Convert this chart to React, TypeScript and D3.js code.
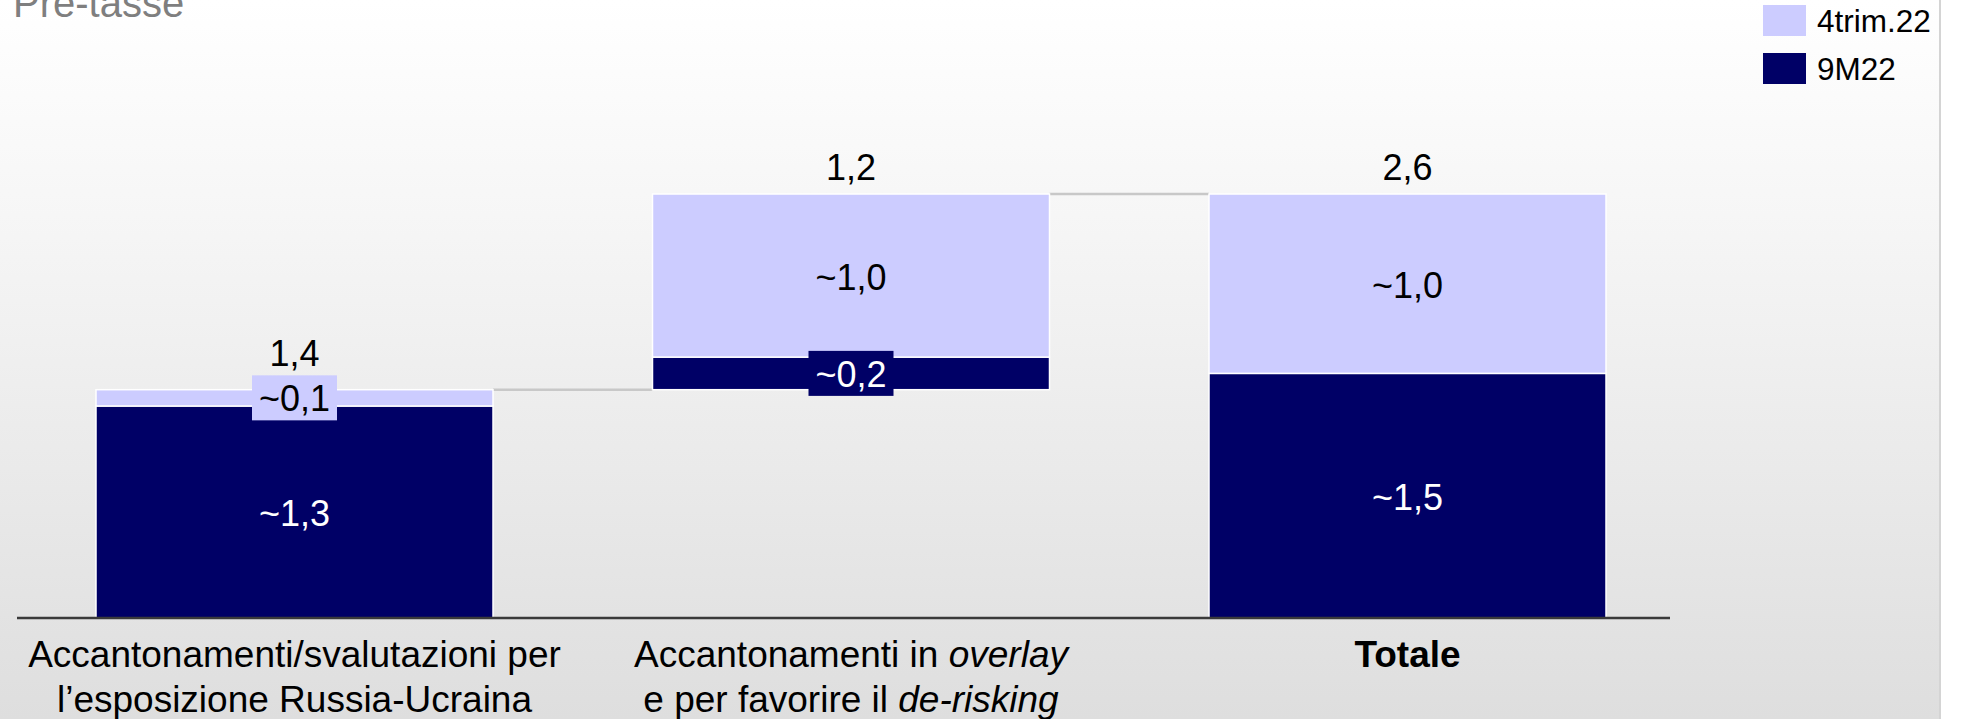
import React from "react";
import * as d3 from "d3";

// ---- data ----
const categories = ["russia", "overlay", "totale"];
const barKinds = ["step", "step", "total"];
const values9M22 = [1.3, 0.2, 1.5];
const values4trim22 = [0.1, 1.0, 1.1];
const labels9M22 = ["~1,3", "~0,2", "~1,5"];
const labels4trim22 = ["~0,1", "~1,0", "~1,0"];
const totalLabels = ["1,4", "1,2", "2,6"];
const seriesNames = ["4trim.22", "9M22"];
const categoryLines = [
  [[{ t: "Accantonamenti/svalutazioni per" }], [{ t: "l’esposizione Russia-Ucraina" }]],
  [[{ t: "Accantonamenti in " }, { t: "overlay", i: true }], [{ t: "e per favorire il " }, { t: "de-risking", i: true }]],
  [[{ t: "Totale", b: true }]],
];
const titleText = "Pre-tasse";

// ---- style ----
const W = 1961;
const H = 719;
const LIGHT = "#ccccff";
const DARK = "#000066";
const FONT = "'Liberation Sans', Arial, Helvetica, sans-serif";

export default function App() {
  const x = d3.scaleBand<string>().domain(categories).range([96, 1606]).paddingInner(0.2866).paddingOuter(0);
  const y = d3.scaleLinear().domain([0, 2.6]).range([618, 194]);

  let running = 0;
  const bars = categories.map((c, i) => {
    const base = barKinds[i] === "total" ? 0 : running;
    const d0 = base;
    const d1 = base + values9M22[i];
    const l1 = d1 + values4trim22[i];
    if (barKinds[i] !== "total") running = l1;
    return { c, i, d0, d1, l1 };
  });

  const bw = x.bandwidth();

  const segLabel = (
    key: string,
    cx: number,
    yTop: number,
    yBot: number,
    text: string,
    fill: string,
    textFill: string
  ) => {
    const h = yBot - yTop;
    const cy = (yTop + yBot) / 2;
    if (h < 50) {
      const bwid = 85;
      const bh = 45;
      return {
        boxTop: cy - bh / 2,
        el: (
          <g key={key}>
            <rect x={cx - bwid / 2} y={cy - bh / 2} width={bwid} height={bh} fill={fill} />
            <text x={cx} y={cy + 13.5} textAnchor="middle" fontSize={36} fill={textFill} fontFamily={FONT}>
              {text}
            </text>
          </g>
        ),
      };
    }
    return {
      boxTop: null,
      el: (
        <text key={key} x={cx} y={cy + 14} textAnchor="middle" fontSize={36} fill={textFill} fontFamily={FONT}>
          {text}
        </text>
      ),
    };
  };

  return (
    <svg
      width={W}
      height={H}
      style={{ position: "absolute", left: 0, top: 0, display: "block" }}
      fontFamily={FONT}
    >
      <defs>
        <linearGradient id="bg" x1="0" y1="0" x2="0" y2="1">
          <stop offset="0" stopColor="#ffffff" />
          <stop offset="0.3" stopColor="#f6f6f6" />
          <stop offset="1" stopColor="#dedede" />
        </linearGradient>
      </defs>
      <rect x={0} y={0} width={W} height={H} fill="#ffffff" />
      <rect x={0} y={0} width={1940} height={H} fill="url(#bg)" />
      <line x1={1940} x2={1940} y1={0} y2={H} stroke="#d4d4d4" strokeWidth={2} />

      <text x={13} y={17} fontSize={40} fill="#7f7f7f">
        {titleText}
      </text>

      {/* connectors */}
      {bars.slice(0, -1).map((b, i) => {
        const nx = x(categories[i + 1])!;
        return (
          <line
            key={"conn" + i}
            x1={x(b.c)! + bw}
            x2={nx}
            y1={y(b.l1)}
            y2={y(b.l1)}
            stroke="#c8c8c8"
            strokeWidth={2.5}
          />
        );
      })}

      {/* bars */}
      {bars.map((b) => {
        const bx = x(b.c)!;
        const cx = bx + bw / 2;
        const dark = segLabel("d" + b.i, cx, y(b.d1), y(b.d0), labels9M22[b.i], DARK, "#ffffff");
        const light = segLabel("l" + b.i, cx, y(b.l1), y(b.d1), labels4trim22[b.i], LIGHT, "#000000");
        const tops = [y(b.l1) - 14];
        if (light.boxTop !== null) tops.push(light.boxTop - 9);
        if (dark.boxTop !== null) tops.push(dark.boxTop - 9);
        const ty = Math.min(...tops);
        return (
          <g key={b.c}>
            <rect x={bx} y={y(b.d1)} width={bw} height={y(b.d0) - y(b.d1)} fill={DARK} stroke="#ffffff" strokeWidth={1.5} />
            <rect x={bx} y={y(b.l1)} width={bw} height={y(b.d1) - y(b.l1)} fill={LIGHT} stroke="#ffffff" strokeWidth={1.5} />
            {dark.el}
            {light.el}
            <text x={cx} y={ty} textAnchor="middle" fontSize={36} fill="#000000">
              {totalLabels[b.i]}
            </text>
          </g>
        );
      })}

      {/* axis */}
      <line x1={17} x2={1670} y1={618} y2={618} stroke="#3a3a3a" strokeWidth={2.5} />

      {/* category labels */}
      {categories.map((c, i) => {
        const cx = x(c)! + bw / 2;
        return (
          <g key={"cat" + c}>
            {categoryLines[i].map((line, li) => (
              <text key={li} x={cx} y={667 + li * 45} textAnchor="middle" fontSize={37} fill="#000000">
                {line.map((seg: any, si: number) => (
                  <tspan key={si} fontStyle={seg.i ? "italic" : "normal"} fontWeight={seg.b ? "bold" : "normal"}>
                    {seg.t}
                  </tspan>
                ))}
              </text>
            ))}
          </g>
        );
      })}

      {/* legend */}
      {seriesNames.map((s, i) => (
        <g key={s}>
          <rect x={1763} y={5 + i * 48} width={43} height={31} fill={i === 0 ? LIGHT : DARK} />
          <text x={1817} y={32 + i * 48} fontSize={31.5} fill="#000000">
            {s}
          </text>
        </g>
      ))}
    </svg>
  );
}
